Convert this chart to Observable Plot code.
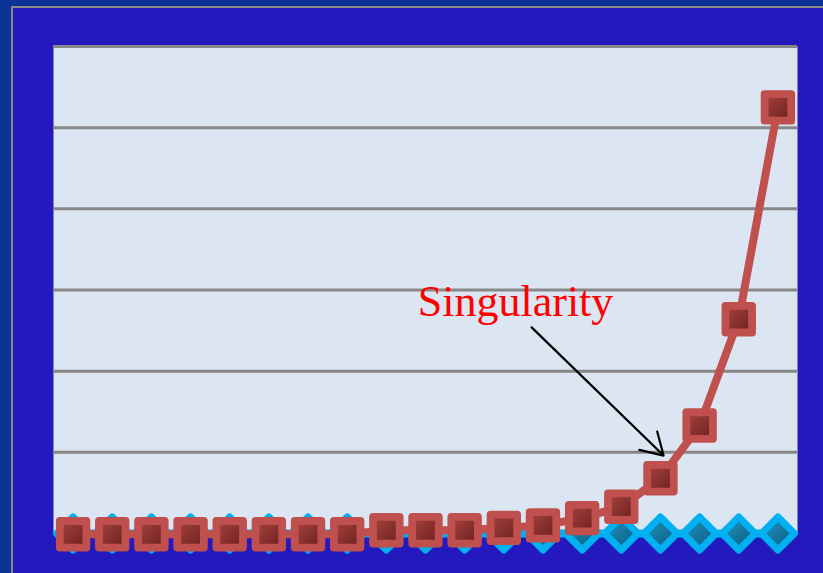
<!DOCTYPE html>
<html><head><meta charset="utf-8">
<script src="https://cdn.jsdelivr.net/npm/d3@7"></script>
<script src="https://cdn.jsdelivr.net/npm/@observablehq/plot@0.6"></script>
<style>
html,body{margin:0;padding:0;}
body{width:823px;height:573px;background:#0a3396;position:relative;overflow:hidden;}
#panel{position:absolute;left:11px;top:6px;right:0;bottom:0;background:#2319be;border-left:2.5px solid #8a8a8a;border-top:2.5px solid #8a8a8a;}
#chart{position:absolute;left:0;top:0;}
</style></head><body>
<div id="panel"></div><div id="chart"></div>
<script>
// Data
const periods = [1,2,3,4,5,6,7,8,9,10,11,12,13,14,15,16,17,18,19];
const seriesRed = [-0.01,-0.01,-0.01,-0.01,-0.01,-0.01,-0.01,-0.01,0.04,0.04,0.04,0.07,0.10,0.19,0.33,0.68,1.33,2.64,5.25];
const seriesBlue = [0,0,0,0,0,0,0,0,0,0,0,0,0,0,0,0,0,0,0];
const gridValues = [1,2,3,4,5,6];
const labelText = ["Singularity"];
const labelX = [12.30];
const labelY = [2.68];
const arrowStart = [12.71, 2.54];
const arrowEnd = [16.08, 0.96];

const rows = periods.map((p, i) => ({period: p, red: seriesRed[i], blue: seriesBlue[i]}));
const labels = labelText.map((t, i) => ({x: labelX[i], y: labelY[i], t}));
const arrows = [{x1: arrowStart[0], y1: arrowStart[1], x2: arrowEnd[0], y2: arrowEnd[1]}];

const svg = Plot.plot({
  width: 823,
  height: 573,
  marginLeft: 53,
  marginRight: 26,
  marginTop: 46,
  marginBottom: 40,
  x: {domain: [0.5, 19.5], axis: null},
  y: {domain: [0, 6], axis: null},
  style: {background: "transparent", overflow: "visible"},
  marks: [
    Plot.frame({fill: "#dce6f2", stroke: "none"}),
    Plot.ruleY(gridValues, {stroke: "#878787", strokeWidth: 3}),
    Plot.line(rows, {x: "period", y: "blue", stroke: "#00b0f0", strokeWidth: 8}),
    Plot.dot(rows, {x: "period", y: "blue", symbol: "diamond2", r: 14.9, fill: "url(#blueGrad)", stroke: "#00b0f0", strokeWidth: 7, strokeLinejoin: "round"}),
    Plot.line(rows, {x: "period", y: "red", stroke: "#c0504d", strokeWidth: 8, strokeLinejoin: "round"}),
    Plot.dot(rows, {x: "period", y: "red", symbol: "square", r: 15.0, fill: "url(#redGrad)", stroke: "#c0504d", strokeWidth: 7.8, strokeLinejoin: "round"}),
    Plot.text(labels, {x: "x", y: "y", text: "t", fill: "#ff0000", fontSize: 44, fontFamily: "Liberation Serif", textAnchor: "middle", lineAnchor: "bottom"}),
    Plot.arrow(arrows, {x1: "x1", y1: "y1", x2: "x2", y2: "y2", stroke: "#000000", strokeWidth: 2.2, headLength: 17, headAngle: 62})
  ]
});

d3.select(svg).insert("defs", ":first-child").html(`
  <linearGradient id="redGrad" x1="0" y1="0" x2="1" y2="1">
    <stop offset="0" stop-color="#a8443f"/>
    <stop offset="1" stop-color="#6a1f1f"/>
  </linearGradient>
  <linearGradient id="blueGrad" x1="0" y1="0" x2="1" y2="1">
    <stop offset="0" stop-color="#2396c6"/>
    <stop offset="1" stop-color="#0a5878"/>
  </linearGradient>`);

document.getElementById("chart").appendChild(svg);
</script>
</body></html>
